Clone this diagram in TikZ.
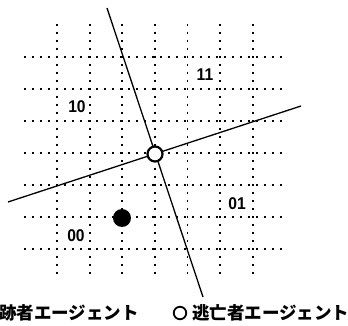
\documentclass[tikz,border=0pt]{standalone}
\usepackage{fontspec}
\setmainfont{Liberation Sans}
\newfontfamily\jpfont{Noto Sans CJK JP}
\tikzset{
  gridline/.style={line width=1.8pt, dash pattern=on 2.4pt off 5.6pt, black},
  axisline/.style={line width=1.3pt, black},
  region/.style={font=\bfseries\fontsize{17}{17}\selectfont, inner sep=0pt, xscale=0.92},
  legend/.style={font=\jpfont\bfseries\fontsize{17.5}{17.5}\selectfont, inner sep=0pt, anchor=west},
  evader/.style={circle, draw, line width=2.2pt, fill=white, minimum size=15pt, inner sep=0pt},
  pursuer/.style={circle, fill=black, minimum size=18pt, inner sep=0pt},
  legendmark/.style={circle, draw, line width=1.8pt, minimum size=12.5pt, inner sep=0pt}
}
\begin{document}
\begin{tikzpicture}[x=1pt,y=-1pt]
\useasboundingbox (0,0) rectangle (348,326);
% grid
\foreach \i in {0,...,6} {
  \draw[gridline] ({57+32.6*\i},24) -- ({57+32.6*\i},278);
  \draw[gridline] (24,{57+32*\i}) -- (286,{57+32*\i});
}
% line endpoints
\coordinate (a1) at (107,8);
\coordinate (a2) at (203,297);
\coordinate (b1) at (8,202);
\coordinate (b2) at (301,106);
\draw[axisline] (a1) -- (a2);
\draw[axisline] (b1) -- (b2);
% agents
\node[evader] (ev) at (155,154) {};
\node[pursuer] (pu) at (122,218) {};
% region labels
\node[region] (r11) at (205,75) {11};
\node[region] (r10) at (77,107) {10};
\node[region] (r01) at (237,204) {01};
\node[region] (r00) at (76,236) {00};
% legend
\node[legend] (lp) at (-1,313) {跡者エージェント};
\node[legendmark] (lm) at (180,313) {};
\node[legend] (le) at (192,313) {逃亡者エージェント};
\end{tikzpicture}
\end{document}
